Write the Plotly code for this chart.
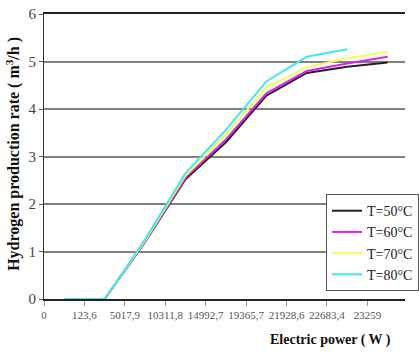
import plotly.graph_objects as go

# Category labels (electric power, W)
power_labels = ["0", "123,6", "5017,9", "10311,8", "14992,7", "19365,7", "21928,6", "22683,4", "23259"]

# Hydrogen production rate (m3/h) per temperature
t50 = [0, 0, 1.2, 2.52, 3.30, 4.28, 4.76, 4.89, 4.98]
t60 = [0, 0, 1.2, 2.55, 3.36, 4.33, 4.80, 4.96, 5.10]
t70 = [0, 0, 1.22, 2.60, 3.46, 4.45, 4.88, 5.07, 5.20]
t80 = [0, 0, 1.25, 2.65, 3.56, 4.58, 5.10, 5.26, None]

series_names = ["T=50°C", "T=60°C", "T=70°C", "T=80°C"]
series_values = [t50, t60, t70, t80]
series_colors = ["#222222", "#e020e0", "#f8f860", "#40e8e8"]

# points sit between category tick marks (Excel "between categories")
x_pos = [i + 0.5 for i in range(len(power_labels))]

fig = go.Figure()
for name, vals, col in zip(series_names, series_values, series_colors):
    fig.add_trace(go.Scatter(x=x_pos, y=vals, mode="lines", name=name,
                             line=dict(color=col, width=2), connectgaps=False))

serif = "Liberation Serif, Times New Roman, serif"
fig.update_layout(
    width=419, height=358,
    margin=dict(l=44, r=0, t=14, b=59),
    plot_bgcolor="white", paper_bgcolor="white",
    font=dict(family=serif, color="#333333"),
    showlegend=True,
    legend=dict(x=0.782, y=0.368, xanchor="left", yanchor="top",
                bgcolor="white", bordercolor="#555555", borderwidth=1,
                font=dict(family=serif, size=14, color="#222222"),
                tracegroupgap=0, itemwidth=30),
    xaxis=dict(range=[0, 8.93], tickmode="array",
               tickvals=list(range(len(power_labels))), ticktext=power_labels,
               showgrid=False, zeroline=False,
               showline=True, linecolor="#222222", linewidth=2, mirror=True,
               ticks="outside", ticklen=5, tickcolor="#999999",
               tickfont=dict(family=serif, size=11, color="#555555")),
    yaxis=dict(range=[0, 6], dtick=1, showgrid=True, gridcolor="#808080", gridwidth=1.5,
               zeroline=False, showline=True, linecolor="#333333", linewidth=1,
               ticks="outside", ticklen=4, tickcolor="#555555",
               tickfont=dict(family=serif, size=15, color="#444444")),
    annotations=[
        dict(text="<b>Hydrogen production rate ( m<sup>3</sup>/h )</b>",
             xref="paper", yref="paper", x=-32/375, y=0.51, xanchor="center", yanchor="middle",
             textangle=-90, showarrow=False,
             font=dict(family=serif, size=16, color="#111111")),
        dict(text="<b>Electric power ( W )</b>",
             xref="paper", yref="paper", x=1 - 12/375, y=-41/285, xanchor="right", yanchor="middle",
             showarrow=False,
             font=dict(family=serif, size=14, color="#111111")),
    ],
)

fig.write_html("out.html")
